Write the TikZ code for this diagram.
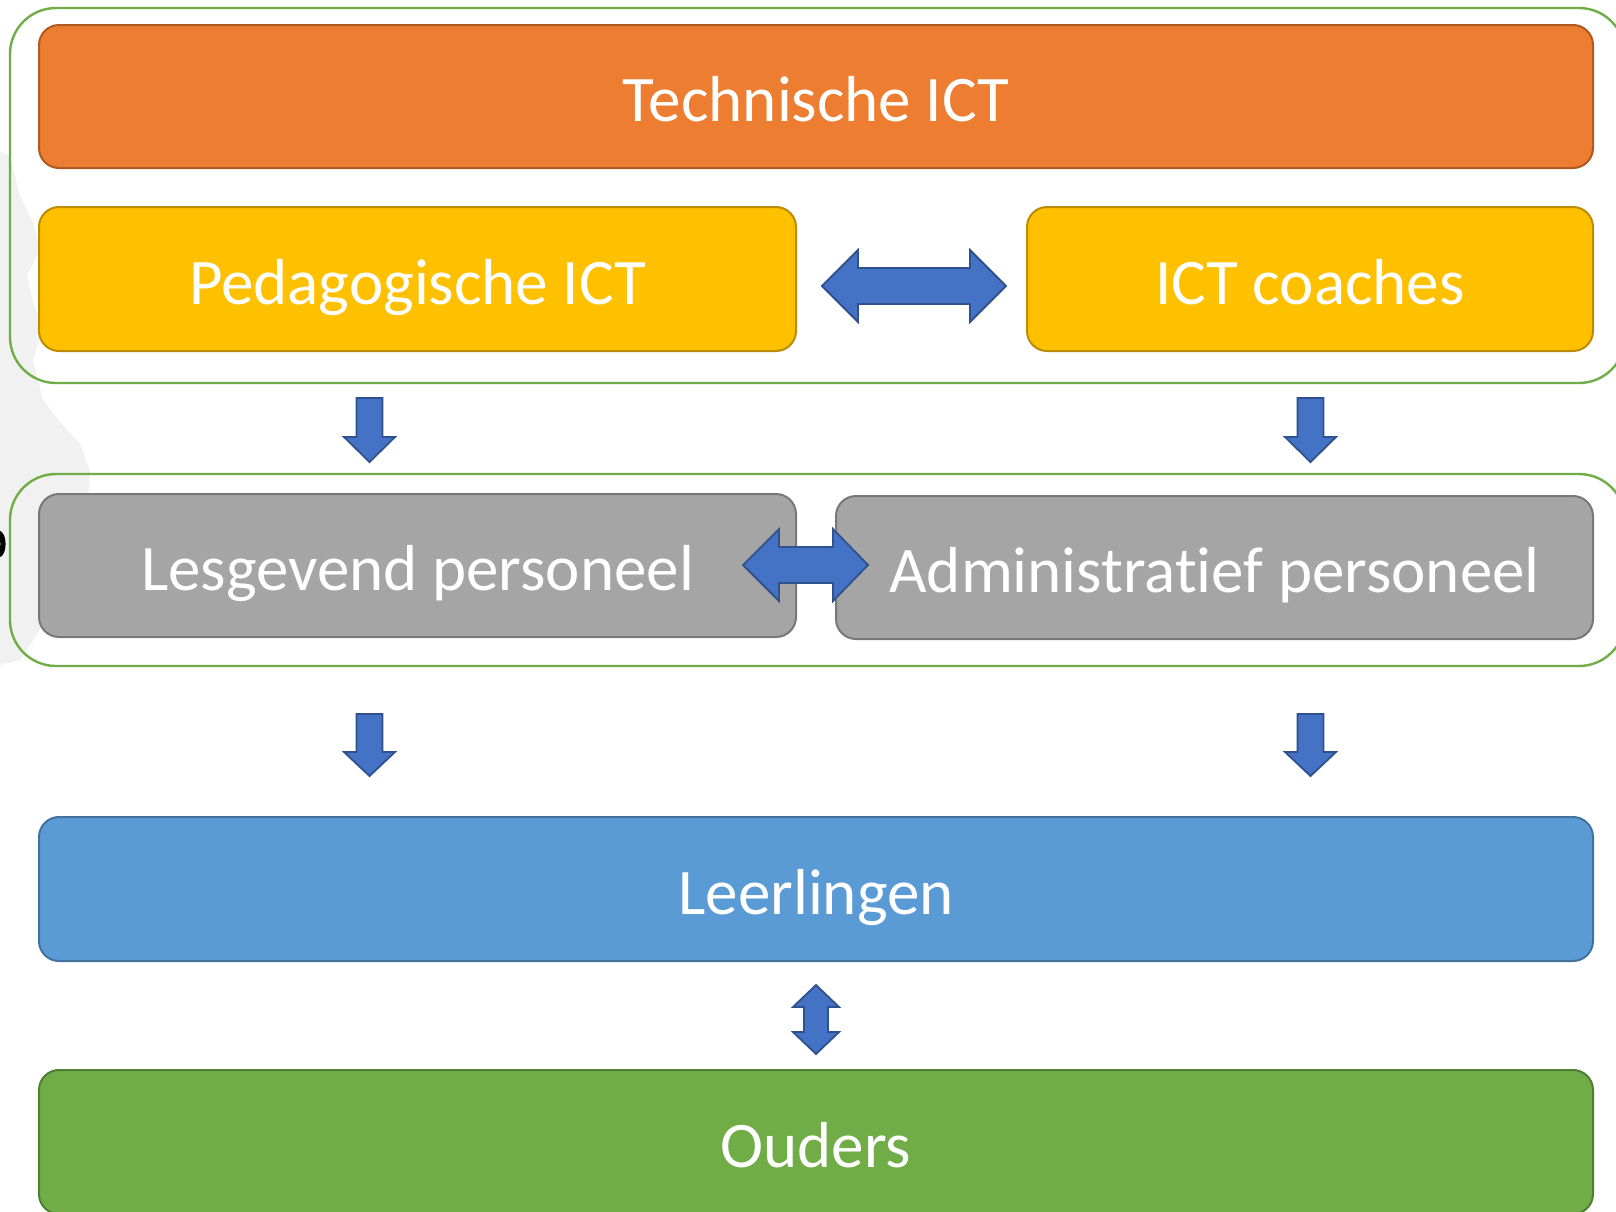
\documentclass[tikz,border=0pt]{standalone}
\usepackage{fontspec}
\setmainfont{Carlito}[Ligatures={NoCommon}]
\begin{document}
\begin{tikzpicture}[x=0.5pt,y=-0.5pt,
  box/.style={draw, line width=1pt, rounded corners=10pt, inner sep=0pt,
    text=white, font=\fontsize{32.5}{38}\selectfont, text height=25pt, text depth=0pt,
    minimum height=71.5pt},
  orangebox/.style={box, fill=cOr, draw=cOrD},
  yellowbox/.style={box, fill=cYe, draw=cYeD},
  graybox/.style={box, fill=cGr, draw=cGrD},
  bluebox/.style={box, fill=cBl, draw=cBlD},
  greenbox/.style={box, fill=cGn, draw=cGnD},
  group/.style={draw=cGn, line width=1.2pt, rounded corners=23pt},
  blockarrow/.style={fill=cAr, draw=cArD, line width=0.9pt, line join=miter}
]
\definecolor{cOr}{HTML}{ED7D31}\definecolor{cOrD}{HTML}{AE5A21}
\definecolor{cYe}{HTML}{FFC000}\definecolor{cYeD}{HTML}{BC8C00}
\definecolor{cGr}{HTML}{A5A5A5}\definecolor{cGrD}{HTML}{787878}
\definecolor{cBl}{HTML}{5B9BD5}\definecolor{cBlD}{HTML}{41719C}
\definecolor{cGn}{HTML}{70AD47}\definecolor{cGnD}{HTML}{507E32}
\definecolor{cAr}{HTML}{4472C4}\definecolor{cArD}{HTML}{2F528F}
\definecolor{cFaint}{HTML}{F1F1F1}
\useasboundingbox (0,0) rectangle (1616,1211);
\fill[white] (0,0) rectangle (1616,1211);
% faint background silhouette
\fill[cFaint] (0,151) -- (10,156) -- (20,196) -- (33,222) -- (40,249) -- (27,276) -- (33,302)
  -- (43,329) -- (33,360) -- (43,400) -- (60,422) -- (80,444) -- (90,471) -- (88,500)
  -- (70,540) -- (50,590) -- (40,630) -- (20,660) -- (0,665) -- cycle;
% partial letter at the left edge
\draw[black, line width=2.6pt] (-2,555) arc[start angle=90, end angle=-90, x radius=5, y radius=11];
% group frames
\draw[group] (10,8) rectangle (1625,383);
\draw[group] (10,474) rectangle (1625,666);
% boxes
\node[orangebox, minimum width=777pt] (tech) at (816,96.5) {Technische ICT};
\node[yellowbox, minimum width=378.5pt, minimum height=72pt] (ped) at (417.5,279) {Pedagogische ICT};
\node[yellowbox, minimum width=283pt, minimum height=72pt] (coach) at (1310,279) {ICT coaches};
\node[graybox, minimum width=378.5pt] (les) at (417.5,565.5) {Lesgevend personeel};
\node[graybox, minimum width=378.5pt] (adm) at (1214.5,567.5) {Administrat\kern0pt ief personeel};
\node[bluebox, minimum width=777pt, minimum height=72pt] (leer) at (816,889) {Leerlingen};
\node[greenbox, minimum width=777pt, minimum height=72pt] (oud) at (816,1142) {Ouders};
% horizontal double arrows
\draw[blockarrow] (822,286) -- (858,250) -- (858,268) -- (970,268) -- (970,250) -- (1006,286)
  -- (970,322) -- (970,304) -- (858,304) -- (858,322) -- cycle;
\draw[blockarrow] (743,565) -- (779,529) -- (779,547) -- (833,547) -- (833,529) -- (868,565)
  -- (833,601) -- (833,583) -- (779,583) -- (779,601) -- cycle;
% down arrows
\foreach \cx/\t/\hb/\tp in {369.5/398/437/462, 1310.5/398/437/462, 369.5/714/752/776, 1310.5/714/752/776}{
  \draw[blockarrow] (\cx-13,\t) -- (\cx+13,\t) -- (\cx+13,\hb) -- (\cx+25.5,\hb) -- (\cx,\tp)
    -- (\cx-25.5,\hb) -- (\cx-13,\hb) -- cycle;
}
% vertical double arrow
\draw[blockarrow] (816,985) -- (839,1007) -- (828,1007) -- (828,1032) -- (839,1032) -- (816,1054)
  -- (793,1032) -- (804,1032) -- (804,1007) -- (793,1007) -- cycle;
\end{tikzpicture}
\end{document}
